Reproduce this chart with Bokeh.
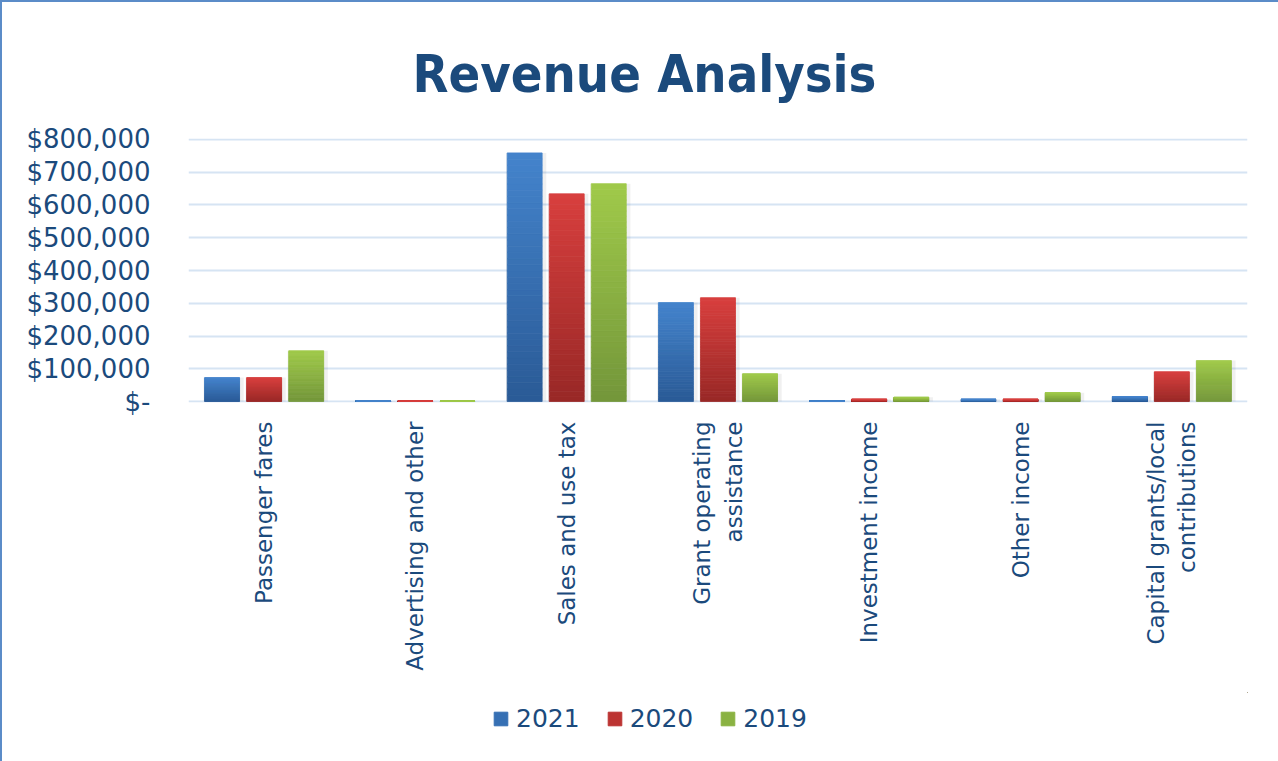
from bokeh.plotting import figure
from bokeh.layouts import column
from bokeh.models import (FixedTicker, Legend, LegendItem, Range1d, FactorRange,
                          ColumnDataSource, Title)
from bokeh.transform import dodge
from bokeh.embed import file_html
from bokeh.resources import INLINE

# ---------------- data ----------------
categories = ["Passenger fares", "Advertising and other", "Sales and use tax",
              "Grant operating\nassistance", "Investment income", "Other income",
              "Capital grants/local\ncontributions"]
series_names = ["2021", "2020", "2019"]
rev_2021 = [73000, 1500, 759000, 302000, 1000, 7000, 15000]
rev_2020 = [73000, 1000, 634000, 317000, 7000, 7000, 91000]
rev_2019 = [155000, 1000, 665000, 85000, 13000, 27000, 125000]
y_tick_values = [0, 100000, 200000, 300000, 400000, 500000, 600000, 700000, 800000]
y_tick_labels = ["$-", "$100,000", "$200,000", "$300,000", "$400,000",
                 "$500,000", "$600,000", "$700,000", "$800,000"]
title_text = "Revenue Analysis"

# ---------------- styles ----------------
TEXT = "#1B4A7C"
FONT = "DejaVu Sans"
colors = [("#4484CC", "#2A5A96"), ("#D83F3E", "#982826"), ("#A0CA4A", "#73963A")]
legend_colors = ["#3670B4", "#BC3432", "#8AB242"]
offsets = [-0.278, 0.0, 0.278]
BAR_W = 0.231


def mix(c1, c2, t):
    a = [int(c1[i:i + 2], 16) for i in (1, 3, 5)]
    b = [int(c2[i:i + 2], 16) for i in (1, 3, 5)]
    return "#%02x%02x%02x" % tuple(round(a[i] + (b[i] - a[i]) * t) for i in range(3))


p = figure(x_range=FactorRange(factors=categories, range_padding=0),
           y_range=Range1d(-3000, 803000),
           frame_width=1059, frame_height=264,
           output_backend="svg", toolbar_location=None,
           min_border_left=186, min_border_right=31, min_border_top=136,
           min_border_bottom=290)
p.outline_line_color = None
p.background_fill_color = "white"
p.border_fill_color = "white"

p.xgrid.grid_line_color = None
p.ygrid.ticker = FixedTicker(ticks=y_tick_values)
p.ygrid.grid_line_color = "#D6E4F3"
p.ygrid.grid_line_width = 2

p.yaxis.ticker = FixedTicker(ticks=y_tick_values)
p.yaxis.major_label_overrides = dict(zip(y_tick_values, y_tick_labels))
p.yaxis.axis_line_color = None
p.yaxis.major_tick_line_color = None
p.yaxis.minor_tick_line_color = None
p.yaxis.major_tick_out = 0
p.yaxis.major_label_standoff = 38
p.yaxis.major_label_text_font = FONT
p.yaxis.major_label_text_font_size = "26px"
p.yaxis.major_label_text_color = TEXT

p.xaxis.axis_line_color = None
p.xaxis.major_tick_line_color = None
p.xaxis.major_tick_out = 0
p.xaxis.major_label_orientation = 1.5707963
p.xaxis.major_label_standoff = 19
p.xaxis.major_label_text_font = FONT
p.xaxis.major_label_text_font_size = "23px"
p.xaxis.major_label_text_color = TEXT

N = 40
for name, vals, (top_c, bot_c), off in zip(series_names, [rev_2021, rev_2020, rev_2019],
                                          colors, offsets):
    shadow_src = ColumnDataSource(dict(cat=categories, top=vals))
    p.vbar(x=dodge("cat", off + 0.01, range=p.x_range), top="top", bottom=0,
           width=BAR_W + 0.035, source=shadow_src, fill_color="black",
           fill_alpha=0.06, line_color=None)
    for k in range(N):
        t = (k + 0.5) / N
        c = mix(bot_c, top_c, t)
        src = ColumnDataSource(dict(cat=categories,
                                    bottom=[v * k / N for v in vals],
                                    top=[v * (k + 1) / N for v in vals]))
        p.vbar(x=dodge("cat", off, range=p.x_range), bottom="bottom", top="top",
               width=BAR_W, source=src, fill_color=c, line_color=c, line_width=0.8)

title = Title(text=title_text, align="left", offset=224, standoff=70,
              text_font="DejaVu Sans Condensed", text_font_style="bold",
              text_font_size="52px", text_color="#1B4A7C")
p.add_layout(title, "above")

# ---------------- legend strip (frames are aligned with the chart above) ----------------
lf = figure(width=1276, height=69, output_backend="svg", toolbar_location=None,
            x_axis_location=None, y_axis_location=None,
            min_border_left=0, min_border_right=0, min_border_top=0, min_border_bottom=0,
            x_range=Range1d(0, 1), y_range=Range1d(0, 1))
lf.outline_line_color = None
lf.grid.grid_line_color = None
legend_items = []
for name, c in zip(series_names, legend_colors):
    # off-range proxy renderer used only for the legend swatch
    r = lf.vbar(x=[5], top=[5], bottom=[4], width=0.1, fill_color=c, line_color=c)
    legend_items.append(LegendItem(label=name, renderers=[r]))
legend = Legend(items=legend_items, orientation="horizontal", location=(304, 28),
                glyph_width=17, glyph_height=17, label_text_font=FONT,
                label_text_font_size="25px", label_text_color=TEXT, spacing=26,
                label_standoff=7, padding=0, margin=0, border_line_color=None,
                background_fill_alpha=0)
lf.add_layout(legend, "center")

layout = column(p, lf, spacing=0)
layout.styles = {"border-left": "2px solid #5B8CC8", "border-top": "2px solid #5B8CC8"}

open("out.html", "w").write(file_html(layout, INLINE))
